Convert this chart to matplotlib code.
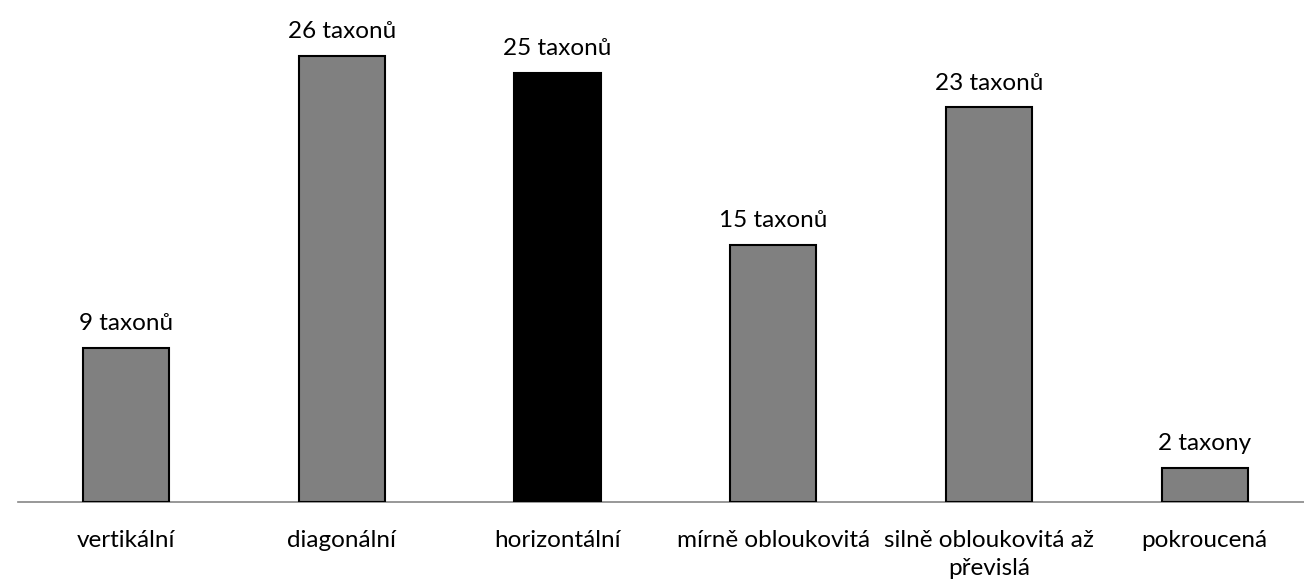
import matplotlib.pyplot as plt

# Data
categories = [
    "vertikální",
    "diagonální",
    "horizontální",
    "mírně obloukovitá",
    "silně obloukovitá až\npřevislá",
    "pokroucená",
]
counts = [9, 26, 25, 15, 23, 2]
value_labels = ["9 taxonů", "26 taxonů", "25 taxonů", "15 taxonů", "23 taxonů", "2 taxony"]
highlight = "horizontální"

plt.rcParams["font.family"] = ["Lato", "DejaVu Sans"]

fig = plt.figure(figsize=(13.04, 5.8), dpi=100)
ax = fig.add_axes([18 / 1304, (580 - 502) / 580, 1 - 18 / 1304, 502 / 580])

x = range(len(categories))
colors = ["black" if c == highlight else "#808080" for c in categories]
bars = ax.bar(x, counts, width=0.4, color=colors, edgecolor="black", linewidth=1.5, zorder=3)

for bar, lab in zip(bars, value_labels):
    ax.annotate(lab, xy=(bar.get_x() + bar.get_width() / 2, bar.get_height()),
                xytext=(0, 10), textcoords="offset points",
                ha="center", va="bottom", fontsize=17.5)

ax.set_xlim(-0.5, 5.46)
ax.set_ylim(0, 502 / (446 / 26))
ax.set_xticks(list(x))
ax.set_xticklabels(categories, fontsize=17.5, linespacing=1.4, va="top")
ax.tick_params(axis="x", length=0, pad=20)
ax.set_yticks([])

for s in ["top", "right", "left"]:
    ax.spines[s].set_visible(False)
ax.spines["bottom"].set_color("#868686")
ax.spines["bottom"].set_linewidth(1.2)

fig.savefig("out.png", dpi=100)
